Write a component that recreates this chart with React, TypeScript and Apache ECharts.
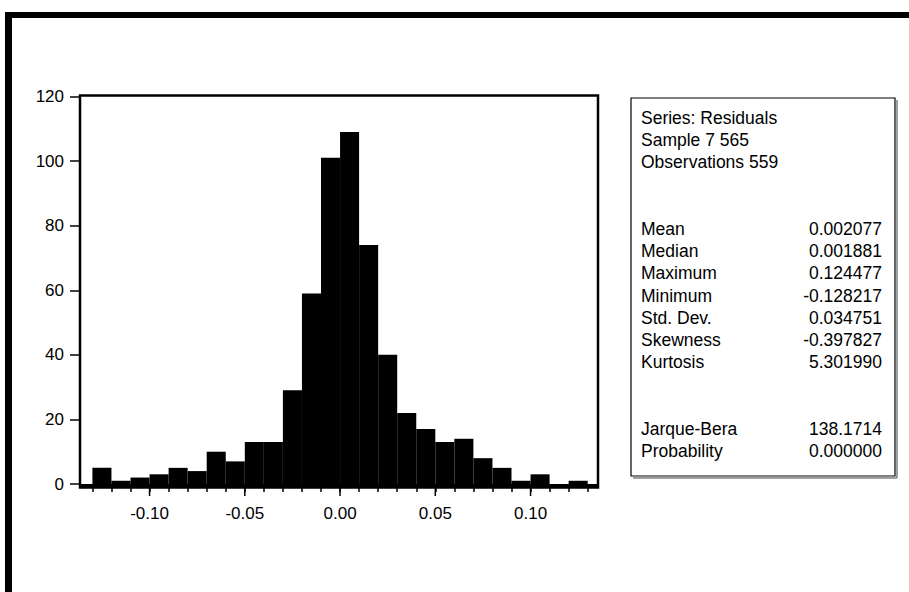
import React, { useEffect, useRef } from "react";
import * as echarts from "echarts";

// Histogram bins (left edges) and counts
const binStarts = [
  -0.13, -0.12, -0.11, -0.1, -0.09, -0.08, -0.07, -0.06, -0.05, -0.04, -0.03, -0.02, -0.01,
  0.0, 0.01, 0.02, 0.03, 0.04, 0.05, 0.06, 0.07, 0.08, 0.09, 0.1, 0.11, 0.12,
];
const counts = [5, 1, 2, 3, 5, 4, 10, 7, 13, 13, 29, 59, 101, 109, 74, 40, 22, 17, 13, 14, 8, 5, 1, 3, 0, 1];
const binWidth = 0.01;
const xMajorTicks = [-0.1, -0.05, 0.0, 0.05, 0.1];

const headerLines = ["Series: Residuals", "Sample 7 565", "Observations 559"];
const statLabels = ["Mean", "Median", "Maximum", "Minimum", "Std. Dev.", "Skewness", "Kurtosis"];
const statValues = ["0.002077", "0.001881", "0.124477", "-0.128217", "0.034751", "-0.397827", "5.301990"];
const testLabels = ["Jarque-Bera", "Probability"];
const testValues = ["138.1714", "0.000000"];

const FONT = "'Liberation Sans', Arial, sans-serif";

export default function App() {
  const ref = useRef<HTMLDivElement>(null);
  useEffect(() => {
    if (!ref.current) return;
    const chart = echarts.init(ref.current, null, { renderer: "svg" });

    const data = binStarts.map((s, i) => [s, s + binWidth, counts[i]]);

    const boxX = 631, boxY = 98, boxW = 264, boxH = 378;
    const textL = 641, textR = 882;
    const lineH = 22.2, firstRow = 118;
    const fnt = `17.5px ${FONT}`;
    const texts: any[] = [];
    headerLines.forEach((t, i) => {
      texts.push({ type: "text", x: textL, y: firstRow + i * lineH, style: { text: t, fill: "#000", font: fnt, textVerticalAlign: "middle" } });
    });
    statLabels.forEach((t, i) => {
      const y = firstRow + (i + 5) * lineH;
      texts.push({ type: "text", x: textL, y, style: { text: t, fill: "#000", font: fnt, textVerticalAlign: "middle" } });
      texts.push({ type: "text", x: textR, y, style: { text: statValues[i], fill: "#000", font: fnt, textAlign: "right", textVerticalAlign: "middle" } });
    });
    testLabels.forEach((t, i) => {
      const y = firstRow + (i + 14) * lineH;
      texts.push({ type: "text", x: textL, y, style: { text: t, fill: "#000", font: fnt, textVerticalAlign: "middle" } });
      texts.push({ type: "text", x: textR, y, style: { text: testValues[i], fill: "#000", font: fnt, textAlign: "right", textVerticalAlign: "middle" } });
    });

    chart.setOption({
      animation: false,
      backgroundColor: "#fff",
      grid: { left: 92.4, right: 909 - 587.7, top: 96.5, bottom: 592 - 484, containLabel: false },
      xAxis: {
        type: "value",
        min: -0.13,
        max: 0.13,
        interval: 0.01,
        name: "",
        axisLine: { show: false, onZero: false },
        splitLine: { show: false },
        axisTick: { show: true, length: 8, lineStyle: { color: "#000", width: 1.5 } },
        axisLabel: {
          margin: 21,
          color: "#000",
          fontFamily: FONT,
          fontSize: 17,
          formatter: (v: number) => {
            const k = Math.round(v * 100);
            return k % 5 === 0 ? (k / 100).toFixed(2) : "";
          },
        },
      },
      yAxis: {
        type: "value",
        min: 0,
        max: 120,
        interval: 20,
        offset: 12.4,
        name: "",
        axisLine: { show: false, onZero: false },
        splitLine: { show: false },
        axisTick: { show: true, length: 10, lineStyle: { color: "#000", width: 1.5 } },
        axisLabel: { margin: 16, color: "#000", fontFamily: FONT, fontSize: 17 },
      },
      series: [
        {
          type: "custom",
          encode: { x: [0, 1], y: 2 },
          data,
          renderItem: (params: any, api: any) => {
            const p0 = api.coord([api.value(0), api.value(2)]);
            const p1 = api.coord([api.value(1), 0]);
            return {
              type: "rect",
              shape: { x: p0[0], y: p0[1], width: p1[0] - p0[0], height: p1[1] - p0[1] },
              style: { fill: "#000" },
            };
          },
        },
        {
          // longer major ticks on the x axis
          type: "custom",
          clip: false,
          encode: { x: 0 },
          data: xMajorTicks.map((v) => [v]),
          renderItem: (params: any, api: any) => {
            const p = api.coord([api.value(0), 0]);
            return {
              type: "line",
              shape: { x1: p[0], y1: p[1], x2: p[0], y2: p[1] + 12 },
              style: { stroke: "#000", lineWidth: 1.5 },
            };
          },
        },
      ],
      graphic: [
        // outer thick frame
        { type: "rect", shape: { x: 5, y: 12, width: 904, height: 6 }, style: { fill: "#000" } },
        { type: "rect", shape: { x: 5, y: 12, width: 7, height: 580 }, style: { fill: "#000" } },
        // plot frame
        { type: "rect", z: 10, shape: { x: 80, y: 95.5, width: 518, height: 392 }, style: { fill: "none", stroke: "#000", lineWidth: 2.5 } },
        { type: "rect", z: 10, shape: { x: 80, y: 484, width: 518, height: 4 }, style: { fill: "#000" } },
        // stats box with shadow
        { type: "line", shape: { x1: boxX + boxW + 2, y1: boxY + 2, x2: boxX + boxW + 2, y2: boxY + boxH + 2 }, style: { stroke: "#808080", lineWidth: 1.5 } },
        { type: "line", shape: { x1: boxX + 2, y1: boxY + boxH + 2, x2: boxX + boxW + 2, y2: boxY + boxH + 2 }, style: { stroke: "#808080", lineWidth: 1.5 } },
        { type: "rect", shape: { x: boxX, y: boxY, width: boxW, height: boxH }, style: { fill: "#fff", stroke: "#000", lineWidth: 1.2 } },
        { type: "group", z: 20, children: texts },
      ],
    });
    return () => chart.dispose();
  }, []);
  return (
    <div
      ref={ref}
      style={{ position: "fixed", left: 0, top: 0, width: 909, height: 592, background: "#fff" }}
    />
  );
}
